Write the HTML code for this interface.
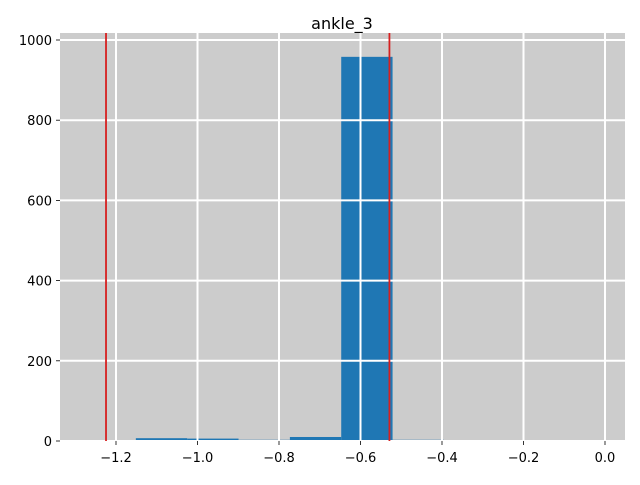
<!DOCTYPE html>
<html><head><meta charset="utf-8"><style>
body{margin:0;background:#fff;}
svg text{font-family:"DejaVu Sans","Liberation Sans",sans-serif;font-size:13px;fill:#000;}
</style></head><body>
<svg id="chart" width="640" height="480" xmlns="http://www.w3.org/2000/svg">
<rect x="60" y="33" width="565" height="408" fill="#cccccc"/>
<g id="bars"></g><g id="grid"></g><g id="vlines"></g><g id="axes"></g>
<text x="342" y="29" text-anchor="middle" style="font-size:16px">ankle_3</text>
</svg>
<script>
const binStart = -1.2773;
const binWidth = 0.1260;
const counts = [1, 7, 6, 3, 10, 958, 3];
const xTicks = [-1.2, -1.0, -0.8, -0.6, -0.4, -0.2, 0.0];
const xTickLabels = ["\u22121.2","\u22121.0","\u22120.8","\u22120.6","\u22120.4","\u22120.2","0.0"];
const yTicks = [0, 200, 400, 600, 800, 1000];
const redLines = [-1.2245, -0.529];
const X = v => 605 + v * 407.5;
const Y = v => 441 - v * 0.401;
const NS = "http://www.w3.org/2000/svg";
function mk(tag, attrs, parent){const e=document.createElementNS(NS,tag);for(const k in attrs)e.setAttribute(k,attrs[k]);document.getElementById(parent).appendChild(e);return e;}
xTicks.forEach((t,i)=>{
  const g=mk("line",{x1:X(t),x2:X(t),y1:33,y2:441,stroke:"#fff","stroke-width":2},"grid");
  
  
  const tk=mk("line",{x1:X(t),x2:X(t),y1:441,y2:445,stroke:"#000","stroke-width":0.8},"axes");
  
  
  const tx=mk("text",{x:X(t),y:462,"text-anchor":"middle"},"axes");
  tx.textContent=xTickLabels[i];
  
  
});
yTicks.forEach(t=>{
  const g=mk("line",{x1:60,x2:625,y1:Y(t),y2:Y(t),stroke:"#fff","stroke-width":2},"grid");
  
  
  const tk=mk("line",{x1:56,x2:60,y1:Y(t),y2:Y(t),stroke:"#000","stroke-width":0.8},"axes");
  
  
  const tx=mk("text",{x:52,y:Y(t)+5,"text-anchor":"end"},"axes");
  tx.textContent=String(t);
  
  
});
counts.forEach((c,i)=>{
  const x0=X(binStart+i*binWidth), x1=X(binStart+(i+1)*binWidth);
  const r=mk("rect",{x:x0,y:Y(c),width:x1-x0,height:441-Y(c),fill:"#1f77b4"},"bars");
  
  
});
redLines.forEach(v=>{
  const l=mk("line",{x1:X(v),x2:X(v),y1:33,y2:441,stroke:"#d62020","stroke-width":1.8},"vlines");
  
  
});
</script>
</body></html>
